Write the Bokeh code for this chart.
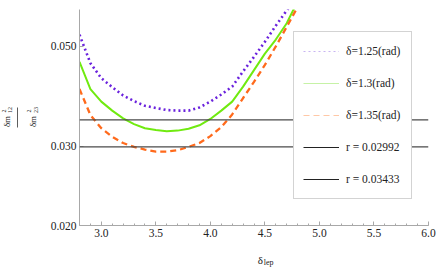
import math
import numpy as np
from bokeh.plotting import figure
from bokeh.layouts import row, column
from bokeh.models import (FixedTicker, PrintfTickFormatter, Span, Legend, LegendItem)
from bokeh.core.properties import value
from bokeh.embed import file_html
from bokeh.resources import INLINE

# ---------------- data ----------------
delta_lep = [2.8, 2.9, 3.0, 3.1, 3.2, 3.3, 3.4, 3.5, 3.6, 3.7, 3.8,
             3.9, 4.0, 4.1, 4.2, 4.3, 4.4, 4.5, 4.6, 4.7, 4.8]
ratio_125 = [0.0531, 0.0459, 0.0425, 0.0406, 0.0389, 0.0378, 0.0369, 0.0365, 0.0361, 0.0360, 0.0360,
             0.0366, 0.0377, 0.0391, 0.0407, 0.0440, 0.0474, 0.0512, 0.0556, 0.0601, 0.0650]
ratio_130 = [0.0462, 0.0402, 0.0377, 0.0360, 0.0346, 0.0336, 0.0329, 0.0326, 0.0324, 0.0325, 0.0328,
             0.0334, 0.0345, 0.0360, 0.0377, 0.0407, 0.0443, 0.0482, 0.0518, 0.0563, 0.0630]
ratio_135 = [0.0402, 0.0352, 0.0329, 0.0315, 0.0305, 0.0299, 0.0295, 0.0292, 0.0292, 0.0294, 0.0299,
             0.0305, 0.0316, 0.0331, 0.0353, 0.0384, 0.0417, 0.0455, 0.0500, 0.0553, 0.0612]
r_values = [0.02992, 0.03433]
series_labels = ["\u03b4=1.25(rad)", "\u03b4=1.3(rad)", "\u03b4=1.35(rad)"]
r_labels = ["r = 0.02992", "r = 0.03433"]
x_ticks = [3.0, 3.5, 4.0, 4.5, 5.0, 5.5, 6.0]
y_ticks = [0.020, 0.030, 0.050]

X0, X1 = 2.8, 6.0
Y0, Y1 = 0.020, 0.0604

# ---------------- layout ----------------
W, H = 436, 268          # whole page
LW = 40                  # left strip (y-axis label)
BH = 20                  # bottom strip (x-axis label)
FL, FR, FT, FB = 79, 428, 9, 225   # frame edges on the page
FONT = "Liberation Serif"
NAN = float("nan")
TXT = "#222222"

MW, MH = W - LW, H - BH
p = figure(width=MW, height=MH, output_backend="svg", toolbar_location=None,
           x_range=(X0, X1), y_range=(Y0, Y1), y_axis_type="log",
           min_border_left=FL - LW, min_border_right=W - FR, min_border_top=FT,
           min_border_bottom=MH - FB)
p.outline_line_color = None
p.grid.visible = False
p.background_fill_color = "white"

for ax in (p.xaxis[0], p.yaxis[0]):
    ax.axis_line_color = "#a8a8a8"
    ax.major_tick_line_color = "#a8a8a8"
    ax.minor_tick_line_color = "#a8a8a8"
    ax.major_tick_in = 4
    ax.major_tick_out = 0
    ax.minor_tick_in = 2
    ax.minor_tick_out = 0
    ax.major_label_text_font = FONT
    ax.major_label_text_font_size = "11.5px"
    ax.major_label_text_color = TXT
minor_x = [round(v, 1) for v in np.arange(2.8, 6.01, 0.1)]
p.xaxis.ticker = FixedTicker(ticks=x_ticks, minor_ticks=minor_x)
p.xaxis.formatter = PrintfTickFormatter(format="%.1f")
p.xaxis.major_label_standoff = 3
p.yaxis.ticker = FixedTicker(ticks=y_ticks, minor_ticks=[])
p.yaxis.formatter = PrintfTickFormatter(format="%.3f")
p.yaxis.major_label_standoff = 3

# reference lines
for r in r_values:
    p.add_layout(Span(location=r, dimension="width", line_color="#4a4a4a", line_width=1.2))

# curves
p.line(delta_lep, ratio_125, line_color="#6a22dd", line_width=2.6, line_dash="2 3")
p.line(delta_lep, ratio_130, line_color="#70ea10", line_width=2.0)
p.line(delta_lep, ratio_135, line_color="#ff6a1c", line_width=2.3, line_dash="6 4")

# legend-only renderers (faded styles, no visible data)
def ghost(**kw):
    return p.line([NAN, NAN], [NAN, NAN], **kw)
l1 = ghost(line_color="#c8b4f2", line_width=1.2, line_dash="2 3")
l2 = ghost(line_color="#c6f2a6", line_width=1.2)
l3 = ghost(line_color="#ffc8a6", line_width=1.2, line_dash="6 4")
l4 = ghost(line_color="#222222", line_width=1.2)
l5 = ghost(line_color="#222222", line_width=1.2)
items = [LegendItem(label=series_labels[0], renderers=[l1]),
         LegendItem(label=series_labels[1], renderers=[l2]),
         LegendItem(label=series_labels[2], renderers=[l3]),
         LegendItem(label=r_labels[0], renderers=[l4]),
         LegendItem(label=r_labels[1], renderers=[l5])]
legend = Legend(items=items, location=(293 - FL, FB - 199), padding=9, spacing=12, margin=0,
                label_height=20, glyph_height=20, glyph_width=36, label_standoff=7,
                label_width=56, label_text_font=FONT, label_text_font_size="11.5px",
                label_text_color=TXT, border_line_color="#a8a8a8",
                border_line_width=1, background_fill_color="white", background_fill_alpha=1.0)
p.add_layout(legend)

# ---------------- strips holding the axis titles ----------------
def strip(w, h):
    f = figure(width=w, height=h, output_backend="svg", toolbar_location=None,
               x_range=(0, w), y_range=(h, 0), x_axis_location=None, y_axis_location=None,
               min_border=0)
    f.grid.visible = False
    f.outline_line_color = None
    return f

# y-axis title: rotated fraction  δm²₁₂ / δm²₂₃  (pixel positions inside the strip)
ly = strip(LW, H)
def ytxt(t, x, y, size):
    ly.text(x=[x], y=[y], text=[t], angle=math.pi / 2, text_align="center",
            text_baseline="middle", text_font=value(FONT), text_font_size=value(size),
            text_color=TXT)
ytxt("\u03b4m", 6.5, 121, "9px")
ytxt("2", 3.0, 110.5, "6px")
ytxt("12", 9.5, 109.5, "6px")
ytxt("\u03b4m", 32.0, 121, "9px")
ytxt("2", 28.5, 110.5, "6px")
ytxt("23", 35.0, 109.5, "6px")
ly.segment(x0=[17], y0=[107], x1=[17], y1=[127], line_color="#333333", line_width=0.8)

# x-axis title  δ_lep
lx = strip(MW, BH)
xc = (FL + FR) / 2 - LW
lx.text(x=[xc - 5.5], y=[259 - MH], text=["\u03b4"], text_align="right", text_baseline="middle",
        text_font=value(FONT), text_font_size=value("11px"), text_color=TXT)
lx.text(x=[xc - 4.5], y=[261.5 - MH], text=["lep"], text_align="left", text_baseline="middle",
        text_font=value(FONT), text_font_size=value("8px"), text_color=TXT)

layout = row(ly, column(p, lx, spacing=0), spacing=0)
open("out.html", "w").write(file_html(layout, INLINE))
